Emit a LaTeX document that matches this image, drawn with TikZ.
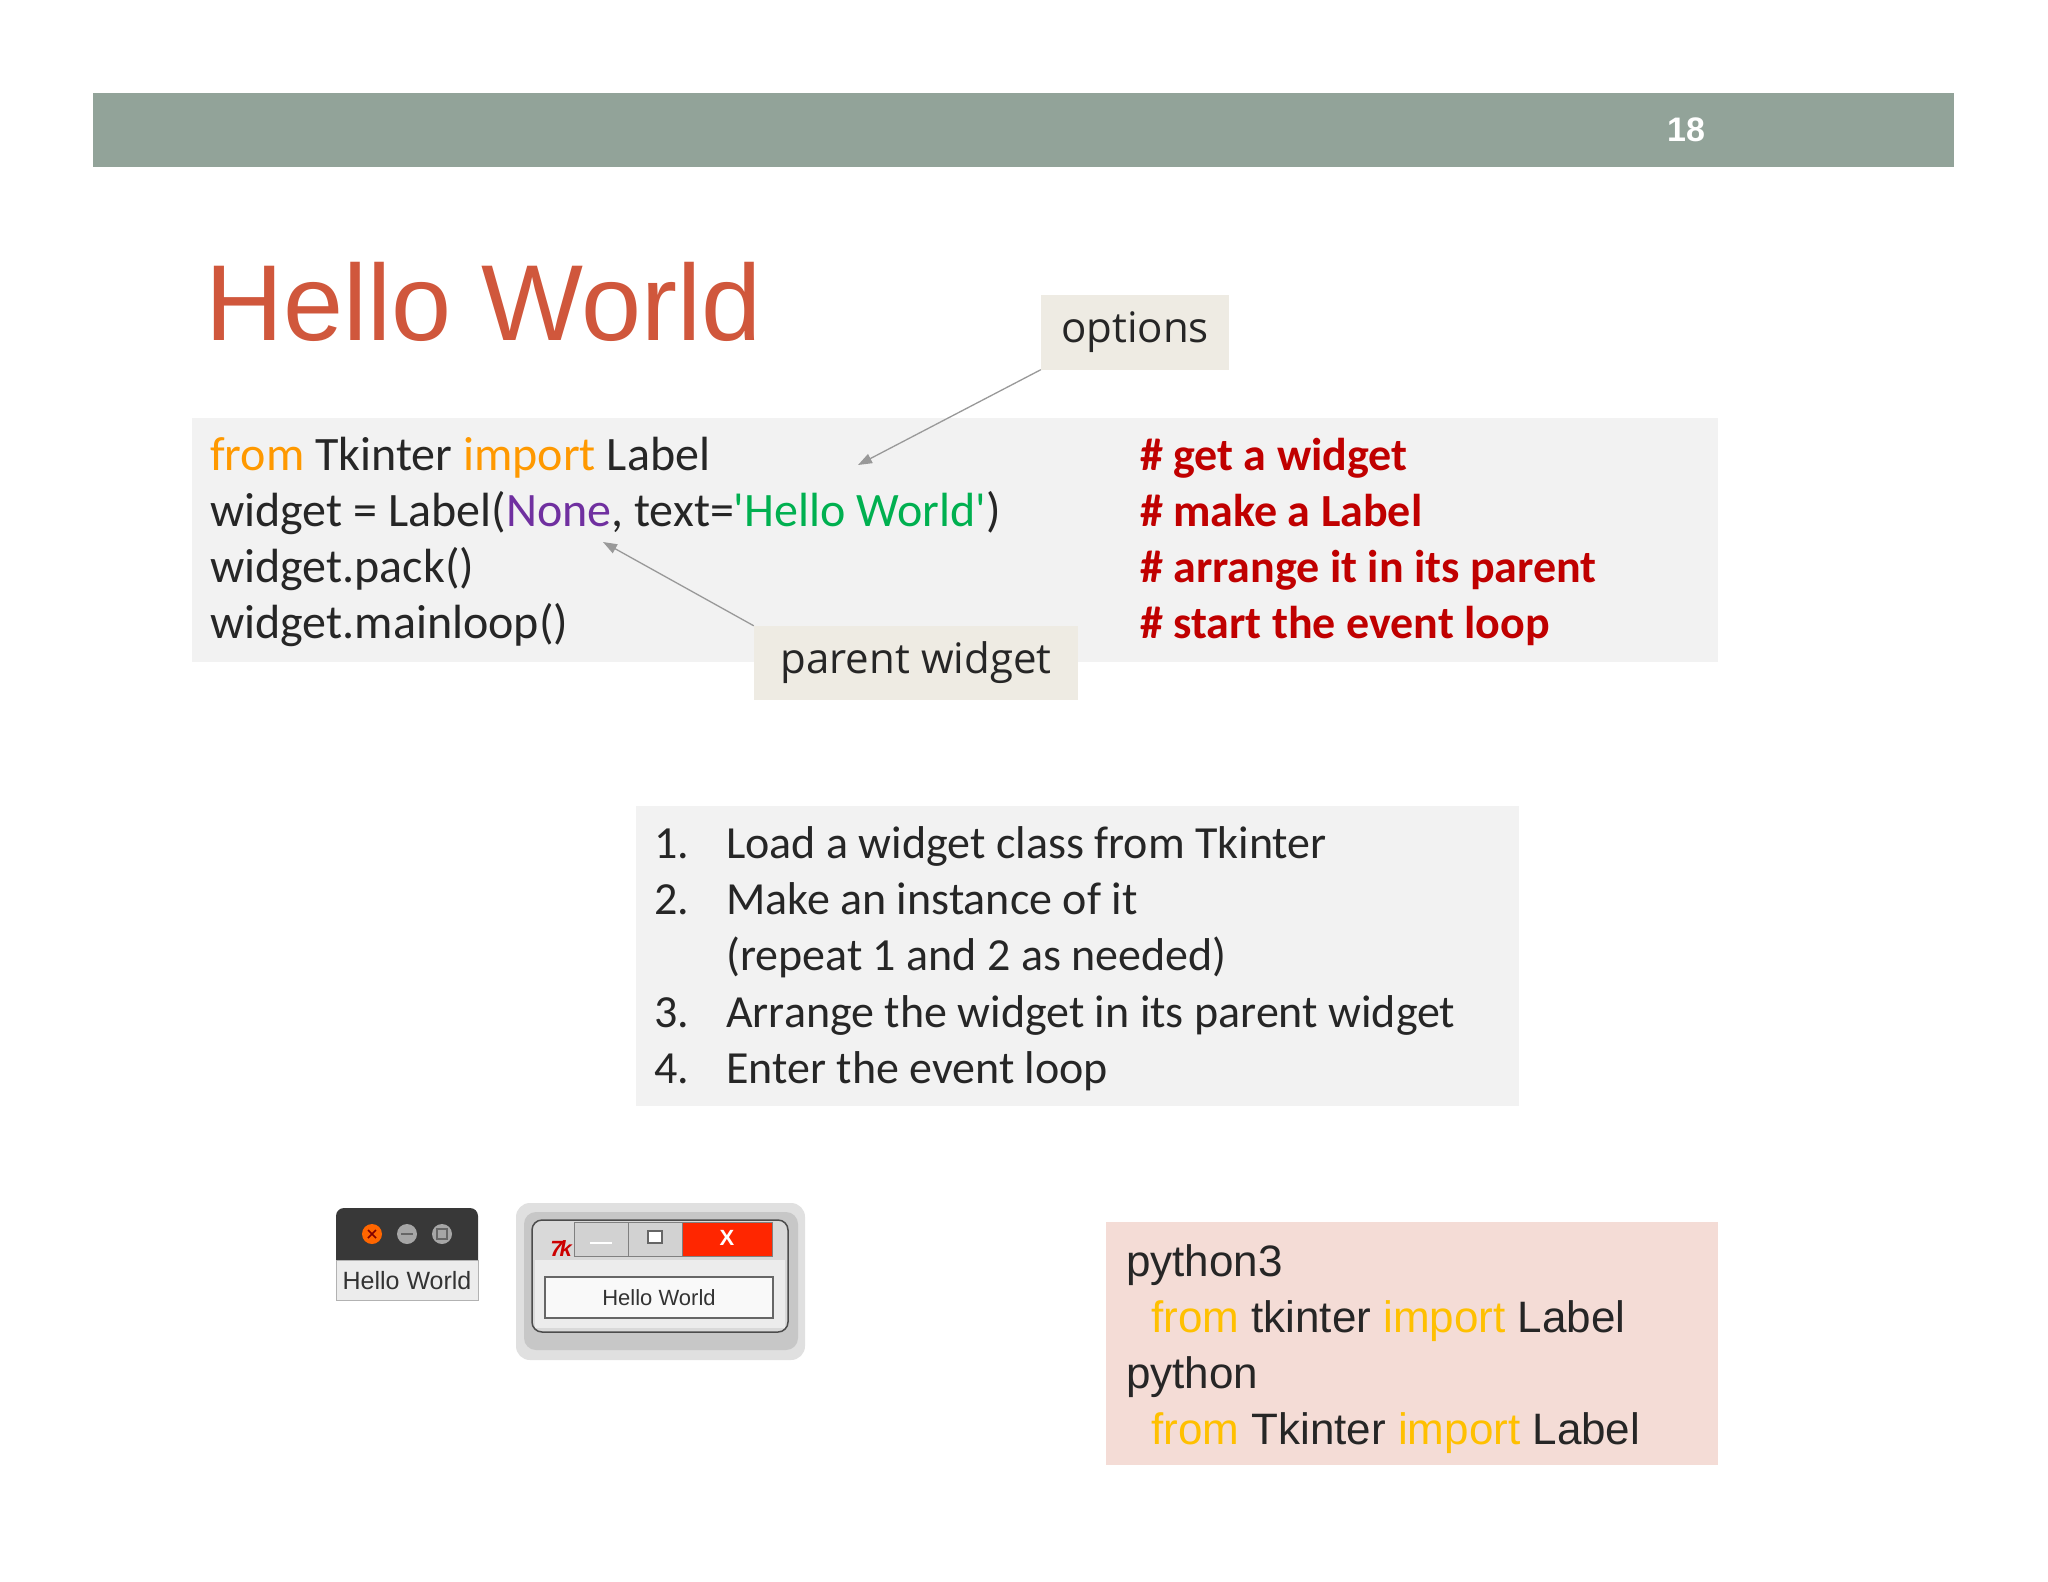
\documentclass[tikz,border=0pt]{standalone}
\usepackage{fontspec}
\setmainfont{Liberation Sans}
\newfontfamily\calfnt{Carlito}
\newfontfamily\opnfnt{Open Sans}
\usetikzlibrary{arrows.meta}
\definecolor{bar}{HTML}{92A399}
\definecolor{ttl}{HTML}{D0573C}
\definecolor{codebg}{HTML}{F2F2F2}
\definecolor{tagbg}{HTML}{EEEBE3}
\definecolor{pybg}{HTML}{F4DCD6}
\definecolor{kw}{HTML}{FF9900}
\definecolor{kwy}{HTML}{FFC000}
\definecolor{pur}{HTML}{7030A0}
\definecolor{grn}{HTML}{00B050}
\definecolor{cmt}{HTML}{C00000}
\definecolor{txt}{HTML}{262626}
\tikzset{
 codeln/.style={anchor=base west,inner sep=0,font=\calfnt\fontsize{48}{56}\selectfont,text=txt},
 cmtln/.style={anchor=base west,inner sep=0,font=\calfnt\bfseries\fontsize{46}{56}\selectfont,text=cmt},
 stepln/.style={anchor=base west,inner sep=0,font=\calfnt\fontsize{46}{56}\selectfont,text=txt},
 pyln/.style={anchor=base west,inner sep=0,font=\fontsize{44}{56}\selectfont,text=txt},
 tag/.style={fill=tagbg,inner sep=0,font=\opnfnt\fontsize{42}{50}\selectfont,text=txt},
 pointer/.style={draw=gray!80,line width=1.3pt,-{Triangle[length=14pt,width=10pt]}}
}
\begin{document}
\begin{tikzpicture}[x=1pt,y=-1pt]
\useasboundingbox (0,0) rectangle (2048,1582);
\fill[white] (0,0) rectangle (2048,1582);
% header
\fill[bar] (93,93) rectangle (1954,167);
\node[text=white,font=\bfseries\fontsize{34}{40}\selectfont] (pg) at (1686,130) {18};
% title
\node[anchor=base west,inner sep=0,text=ttl,font=\fontsize{108}{120}\selectfont] (title) at (205,340) {Hello World};
% code box
\fill[codebg] (192,418) rectangle (1718,662);
\node[codeln] (c1) at (210,470) {\textcolor{kw}{from} Tkinter \textcolor{kw}{import} Label};
\node[codeln] (c2) at (210,526) {widget = Label(\textcolor{pur}{None}, text=\textcolor{grn}{'Hello World'})};
\node[codeln] (c3) at (210,582) {widget.pack()};
\node[codeln] (c4) at (210,638) {widget.mainloop()};
\node[cmtln] (m1) at (1140,470) {\# get a widget};
\node[cmtln] (m2) at (1140,526) {\# make a Label};
\node[cmtln] (m3) at (1140,582) {\# arrange it in its parent};
\node[cmtln] (m4) at (1140,638) {\# start the event loop};
% tags
\node[tag,minimum width=188pt,minimum height=75pt] (opt) at (1135,332) {options};
\node[tag,minimum width=324pt,minimum height=74pt] (par) at (916,663) {parent widget};
\coordinate (optend) at (858,465);
\coordinate (parend) at (603,542);
\draw[pointer] (opt.south west) -- (optend);
\draw[pointer] (par.north west) -- (parend);
% steps
\fill[codebg] (636,806) rectangle (1519,1106);
\foreach \n/\t/\y in {1./Load a widget class from Tkinter/858, 2./Make an instance of it/914, /(repeat 1 and 2 as needed)/970, 3./Arrange the widget in its parent widget/1027, 4./Enter the event loop/1083}{
 \node[stepln] (n\y) at (654,\y) {\n};
 \node[stepln] (s\y) at (726,\y) {\t};
}
% python box
\fill[pybg] (1106,1222) rectangle (1718,1465);
\node[pyln] (p1) at (1126,1276) {python3};
\node[pyln] (p2) at (1151,1332) {\textcolor{kwy}{from} tkinter \textcolor{kwy}{import} Label};
\node[pyln] (p3) at (1126,1388) {python};
\node[pyln] (p4) at (1151,1444) {\textcolor{kwy}{from} Tkinter \textcolor{kwy}{import} Label};
% left window (Ubuntu)
\fill[black!78,rounded corners=8pt] (336,1300) -- (336,1208) -- (478,1208) -- (478,1300) -- cycle;
\fill[gray!15] (336,1260) rectangle (478,1300);
\draw[gray!60,line width=1pt] (336,1260) rectangle (478,1300);
\fill[orange!80!red] (372,1234) circle (10);
\draw[red!50!black,line width=1.5pt] (368,1230) -- (376,1238) (368,1238) -- (376,1230);
\fill[gray!70] (407,1234) circle (10);
\fill[gray!70] (442,1234) circle (10);
\draw[black!60,line width=1.5pt] (401,1234) -- (413,1234);
\draw[black!60,line width=1.2pt] (437,1229) rectangle (447,1239);
\node[font=\fontsize{25}{25}\selectfont,text=black!80,inner sep=0] (lw) at (407,1281) {Hello World};
% right window (Windows)
\fill[black!12,rounded corners=14pt] (516,1203) rectangle (805,1360);
\fill[black!22,rounded corners=12pt] (524,1212) rectangle (798,1350);
\fill[gray!30,rounded corners=10pt,draw=black!70,line width=1.5pt] (532,1220) rectangle (788,1332);
\fill[gray!15] (535,1260) rectangle (785,1328);
\fill[gray!35,draw=black!50] (574,1222) rectangle (628,1256);
\fill[gray!35,draw=black!50] (628,1222) rectangle (682,1256);
\fill[red!70!orange,draw=black!50] (682,1222) rectangle (772,1256);
\draw[white,line width=2pt] (590,1243) -- (612,1243);
\draw[black!60,line width=1.5pt,fill=white] (648,1231) rectangle (662,1243);
\node[text=white,font=\bfseries\fontsize{22}{22}\selectfont,inner sep=0] (xw) at (727,1238) {X};
\node[text=red!80!black,font=\bfseries\itshape\fontsize{22}{22}\selectfont,inner sep=0] (tk) at (561,1249) {7\kern-3pt k};
\fill[white!95!gray,draw=black!60,line width=1.2pt] (545,1277) rectangle (773,1318);
\node[font=\fontsize{22}{22}\selectfont,text=black!80,inner sep=0] (rw) at (659,1298) {Hello World};
\end{tikzpicture}
\end{document}
